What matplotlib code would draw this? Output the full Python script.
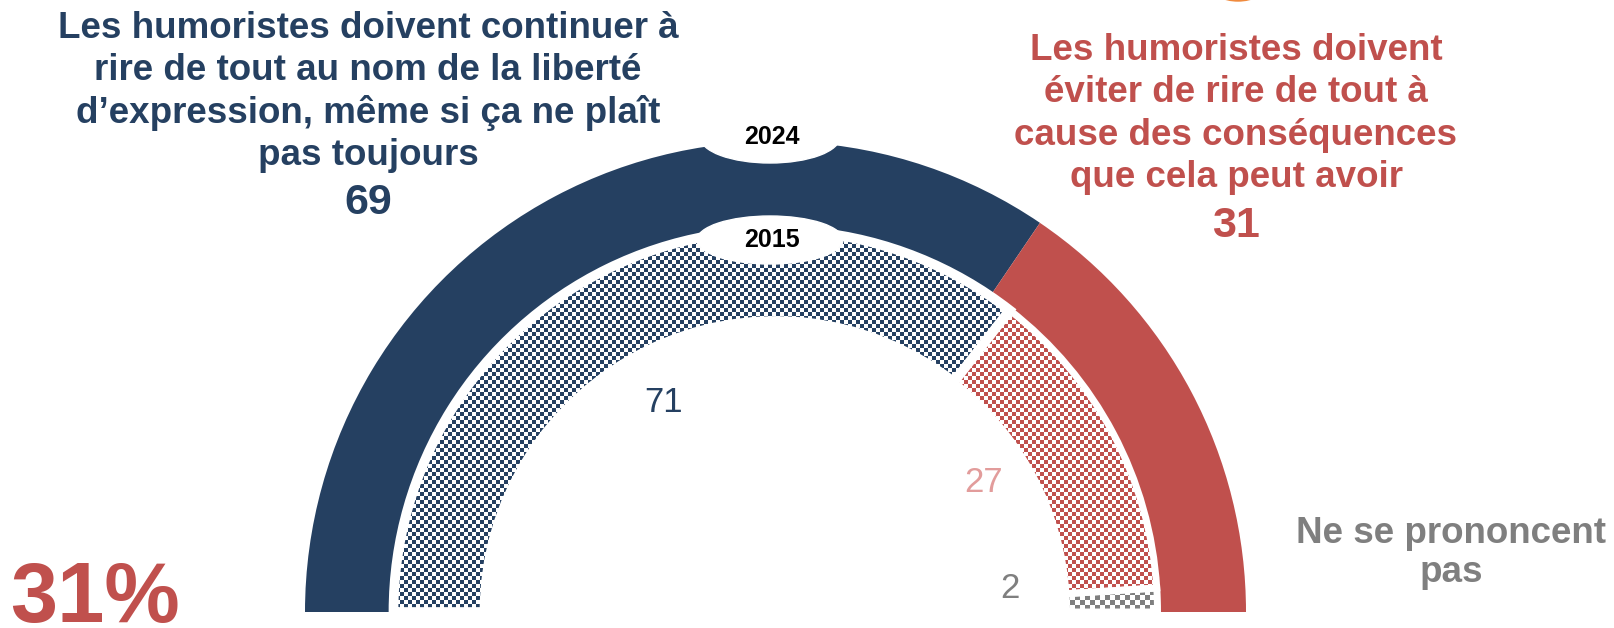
import numpy as np
import matplotlib.pyplot as plt
from matplotlib.patches import Ellipse
from matplotlib.colors import to_rgba

plt.rcParams['font.family'] = ['Liberation Sans', 'DejaVu Sans']

# data
years = ["2024", "2015"]
label_keep = ("Les humoristes doivent continuer à\nrire de tout au nom de la liberté\n"
              "d\u2019expression, même si ça ne plaît\npas toujours")
label_avoid = ("Les humoristes doivent\néviter de rire de tout à\n"
               "cause des conséquences\nque cela peut avoir")
label_nsp = "Ne se prononcent\npas"
values_2024 = [69, 31]
values_2015 = [71, 27, 2]
headline = "31%"

NAVY = "#254061"
RED = "#C0504D"
GREY = "#7F7F7F"
PINK = "#E29C9B"

W, H = 1614, 628
cx, cy = 775.5, 612   # centre of the half donut, in pixels from top-left


def P(x, y):
    # pixel position -> data coords (data units are pixels, origin at donut centre)
    return x - cx, cy - y


fig = plt.figure(figsize=(W / 100, H / 100), dpi=100)
ax = fig.add_axes([0, 0, 1, 1])

# outer ring = 2024, the bottom half is a hidden slice
outer, _ = ax.pie(values_2024 + [sum(values_2024)], radius=470.5, startangle=180,
                  counterclock=False, colors=[NAVY, RED, "none"],
                  wedgeprops=dict(width=87.5, edgecolor="none"))

# inner ring = 2015, filled with a checker pattern clipped to each wedge
inner, _ = ax.pie(values_2015 + [sum(values_2015)], radius=382, startangle=180,
                  counterclock=False, colors=["none"] * 4,
                  wedgeprops=dict(width=91, edgecolor="white", linewidth=5))
inner[-1].set_edgecolor("none")
inner[0].set_linewidth(7)   # wider gap between the 71 and 27 slices
for w in inner:
    w.set_zorder(2)

yy, xx = np.mgrid[0:H, 0:W]


def checker(color, cell):
    on = ((xx // cell + yy // cell) % 2 == 0)
    img = np.ones((H, W, 4))
    img[on] = to_rgba(color)
    return img


for w, col, cell in zip(inner[:3], [NAVY, RED, GREY], [4, 4, 5]):
    im = ax.imshow(checker(col, cell), extent=(-cx, W - cx, -(H - cy), cy),
                   origin="upper", interpolation="nearest", aspect="auto", zorder=1)
    im.set_clip_path(w)

# white notches with the year labels
ax.add_patch(Ellipse(P(770, 137), 140, 52, color="white", zorder=3))
ax.add_patch(Ellipse(P(770, 240), 146, 48, color="white", zorder=3))
ax.text(*P(772, 137), years[0], ha="center", va="center", fontsize=18,
        fontweight="bold", color="black", zorder=4)
ax.text(*P(772, 240), years[1], ha="center", va="center", fontsize=18,
        fontweight="bold", color="black", zorder=4)

# answer titles
ax.text(*P(368, 92), label_keep, ha="center", va="center", fontsize=26.5,
        fontweight="bold", color=NAVY, linespacing=1.26)
ax.text(*P(368, 203), str(values_2024[0]), ha="center", va="center", fontsize=31,
        fontweight="bold", color=NAVY)
ax.text(*P(1236, 114), label_avoid, ha="center", va="center", fontsize=26.5,
        fontweight="bold", color=RED, linespacing=1.26)
ax.text(*P(1236, 226), str(values_2024[1]), ha="center", va="center", fontsize=31,
        fontweight="bold", color=RED)
ax.text(*P(1451, 553), label_nsp, ha="center", va="center", fontsize=26.5,
        fontweight="bold", color=GREY, linespacing=1.12)

# 2015 values
ax.text(*P(664, 403), str(values_2015[0]), ha="center", va="center", fontsize=25, color=NAVY)
ax.text(*P(984, 483), str(values_2015[1]), ha="center", va="center", fontsize=25, color=PINK)
ax.text(*P(1010, 588), str(values_2015[2]), ha="center", va="center", fontsize=25, color=GREY)

# big headline number, cut by the bottom edge as in the original
ax.text(*P(10, 622), headline, ha="left", va="baseline", fontsize=61,
        fontweight="bold", color=RED)

# bit of an orange icon peeking in at the top
ax.add_patch(Ellipse(P(1238, -14), 54, 30, color="#F08A3C", zorder=3))

ax.set_xlim(-cx, W - cx)
ax.set_ylim(-(H - cy), cy)
ax.set_aspect("auto")
ax.axis("off")

fig.savefig("out.png", dpi=100)
